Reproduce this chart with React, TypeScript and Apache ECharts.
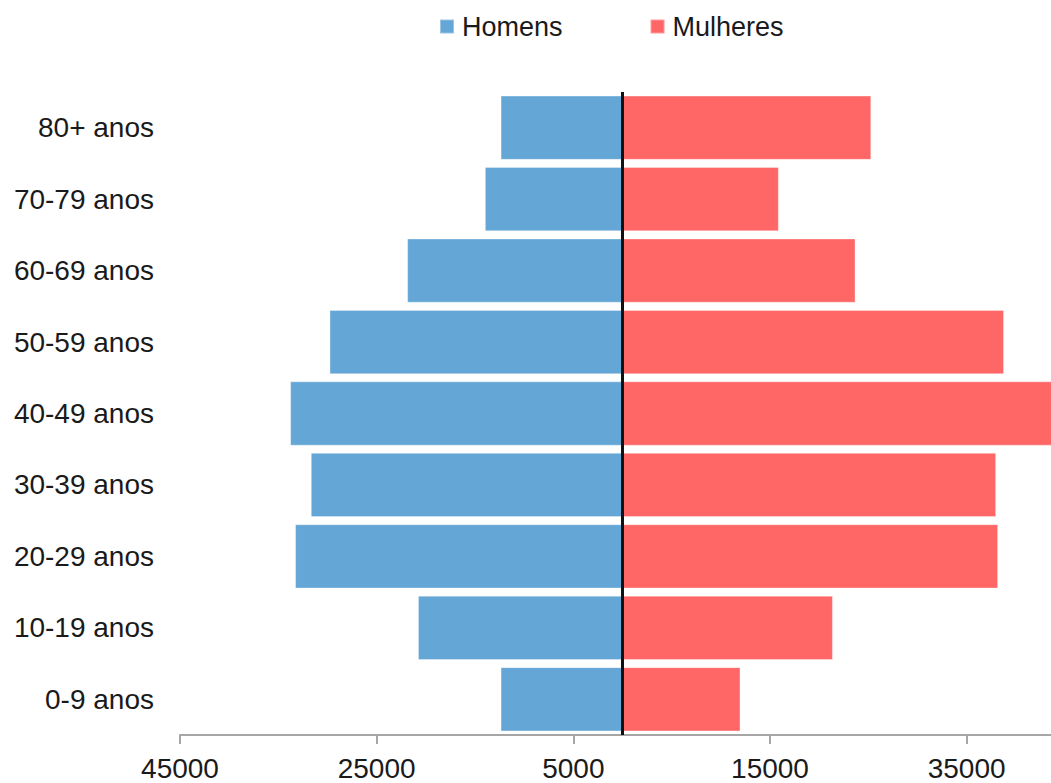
import React, { useEffect, useRef } from "react";
import * as echarts from "echarts";

const categories = [
  "0-9 anos",
  "10-19 anos",
  "20-29 anos",
  "30-39 anos",
  "40-49 anos",
  "50-59 anos",
  "60-69 anos",
  "70-79 anos",
  "80+ anos",
];
const homens = [12400, 20800, 33300, 31700, 33800, 29800, 21900, 14000, 12400];
const mulheres = [12000, 21400, 38200, 38000, 44000, 38800, 23700, 15900, 25300];

const FONT = "Liberation Sans";

export default function App() {
  const ref = useRef<HTMLDivElement>(null);
  useEffect(() => {
    if (!ref.current) return;
    const chart = echarts.init(ref.current, null, { renderer: "svg" });
    chart.setOption({
      animation: false,
      backgroundColor: "#ffffff",
      textStyle: { fontFamily: FONT },
      legend: {
        data: ["Homens", "Mulheres"],
        left: 434,
        top: 8,
        icon: "rect",
        itemWidth: 14,
        itemHeight: 14,
        itemGap: 87,
        textStyle: { fontSize: 27, color: "#1a1a1a", fontFamily: FONT, padding: [0, 0, 0, 3] },
      },
      grid: { left: 180, right: 0, top: 92, bottom: 48, containLabel: false },
      xAxis: {
        type: "value",
        min: -45000,
        max: 45000,
        interval: 20000,
        axisLine: { show: true, onZero: false, lineStyle: { color: "#a6a6a6", width: 2 } },
        axisTick: { show: true, length: 9, lineStyle: { color: "#a6a6a6", width: 2 } },
        splitLine: { show: false },
        axisLabel: {
          fontSize: 28,
          color: "#1a1a1a",
          fontFamily: FONT,
          margin: 19,
          showMaxLabel: false,
          formatter: (v: number) => String(Math.abs(v)),
        },
      },
      yAxis: {
        type: "category",
        data: categories,
        axisLine: { show: false },
        axisTick: { show: false },
        splitLine: { show: false },
        axisLabel: { fontSize: 28, color: "#1a1a1a", fontFamily: FONT, margin: 26 },
      },
      series: [
        {
          name: "Homens",
          type: "bar",
          data: homens.map((v) => -v),
          barCategoryGap: "10%",
          barGap: "-100%",
          itemStyle: { color: "#64A6D6", borderColor: "rgba(255,255,255,0.35)", borderWidth: 1 },
        },
        {
          name: "Mulheres",
          type: "bar",
          data: mulheres,
          barCategoryGap: "10%",
          barGap: "-100%",
          itemStyle: { color: "#FF6666", borderColor: "rgba(255,255,255,0.35)", borderWidth: 1 },
          markLine: {
            silent: true,
            symbol: ["none", "none"],
            label: { show: false },
            lineStyle: { color: "#111111", width: 3, type: "solid" },
            data: [{ xAxis: 0 }],
          },
        },
      ],
    });
    return () => chart.dispose();
  }, []);
  return (
    <div
      ref={ref}
      style={{ position: "fixed", left: 0, top: 0, width: 1065, height: 783 }}
    />
  );
}
